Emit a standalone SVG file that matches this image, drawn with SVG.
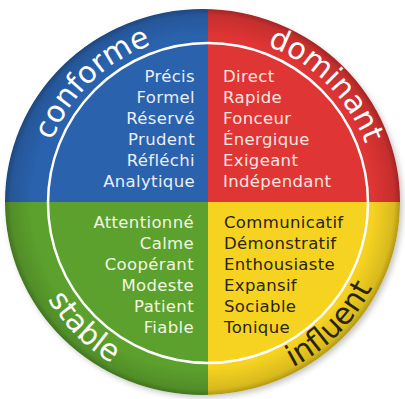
<svg xmlns="http://www.w3.org/2000/svg" width="405" height="399" viewBox="0 0 405 399">
  <defs>
    <clipPath id="disc">
      <ellipse cx="202.5" cy="202" rx="197.5" ry="193"/>
    </clipPath>
    <radialGradient id="rim" cx="0.5" cy="0.5" r="0.5">
      <stop offset="0.86" stop-color="#000" stop-opacity="0"/>
      <stop offset="0.97" stop-color="#000" stop-opacity="0.12"/>
      <stop offset="1" stop-color="#000" stop-opacity="0.28"/>
    </radialGradient>
    <filter id="blur" x="-10%" y="-10%" width="120%" height="120%">
      <feGaussianBlur stdDeviation="3"/>
    </filter>
    <path id="pConforme" d="M40.9,185.4 A168,168 0 0 1 196.3,35.4"/>
    <path id="pDominant" d="M222.6,35.6 A168,168 0 0 1 375.4,188.4"/>
    <path id="pStable" d="M21.7,219.3 A187,187 0 0 0 191.7,389.3"/>
    <path id="pInfluent" d="M224.3,387.3 A185,185 0 0 0 392.3,219.3"/>
  </defs>
  <style>
    .lst { font-family: "DejaVu Sans", "Liberation Sans", sans-serif; font-size: 16.5px; letter-spacing: 0.35px; }
    .arc { font-family: "DejaVu Sans", "Liberation Sans", sans-serif; font-size: 30px; }
    .ring { fill: none; stroke: #ffffff; stroke-width: 2.5; }
  </style>
  <rect width="405" height="399" fill="#ffffff"/>
  <ellipse cx="205" cy="205" rx="197" ry="192" fill="#000" opacity="0.25" filter="url(#blur)"/>
  <g clip-path="url(#disc)">
    <g id="conforme">
      <rect x="0" y="0" width="208" height="202" fill="#2a62ad"/>
    </g>
    <g id="dominant">
      <rect x="208" y="0" width="197" height="202" fill="#df3534"/>
    </g>
    <g id="stable">
      <rect x="0" y="202" width="208" height="197" fill="#5ca12d"/>
    </g>
    <g id="influent">
      <rect x="208" y="202" width="197" height="197" fill="#f6d321"/>
    </g>
    <ellipse cx="202.5" cy="202" rx="197.5" ry="193" fill="url(#rim)"/>
  </g>
  <g id="connectors">
    <circle class="ring" cx="208" cy="203" r="160"/>
  </g>
  <g id="conforme-text">
    <text class="arc" fill="#ffffff"><textPath href="#pConforme" startOffset="50%" text-anchor="middle">conforme</textPath></text>
    <g class="lst" fill="#e8eff8" text-anchor="end">
      <text x="195" y="82">Précis</text>
      <text x="195" y="103">Formel</text>
      <text x="195" y="124">Réservé</text>
      <text x="195" y="145">Prudent</text>
      <text x="195" y="166">Réfléchi</text>
      <text x="195" y="187">Analytique</text>
    </g>
  </g>
  <g id="dominant-text">
    <text class="arc" fill="#ffffff"><textPath href="#pDominant" startOffset="50%" text-anchor="middle">dominant</textPath></text>
    <g class="lst" fill="#fce6e0">
      <text x="223" y="82">Direct</text>
      <text x="223" y="103">Rapide</text>
      <text x="223" y="124">Fonceur</text>
      <text x="223" y="145">Énergique</text>
      <text x="223" y="166">Exigeant</text>
      <text x="223" y="187">Indépendant</text>
    </g>
  </g>
  <g id="stable-text">
    <text class="arc" fill="#ffffff"><textPath href="#pStable" startOffset="50%" text-anchor="middle">stable</textPath></text>
    <g class="lst" fill="#f1f7e0" text-anchor="end">
      <text x="194" y="228">Attentionné</text>
      <text x="194" y="249">Calme</text>
      <text x="194" y="270">Coopérant</text>
      <text x="194" y="291">Modeste</text>
      <text x="194" y="312">Patient</text>
      <text x="194" y="333">Fiable</text>
    </g>
  </g>
  <g id="influent-text">
    <text class="arc" fill="#2a2312"><textPath href="#pInfluent" startOffset="50%" text-anchor="middle">influent</textPath></text>
    <g class="lst" fill="#2a2312">
      <text x="224" y="228">Communicatif</text>
      <text x="224" y="249">Démonstratif</text>
      <text x="224" y="270">Enthousiaste</text>
      <text x="224" y="291">Expansif</text>
      <text x="224" y="312">Sociable</text>
      <text x="224" y="333">Tonique</text>
    </g>
  </g>
</svg>
